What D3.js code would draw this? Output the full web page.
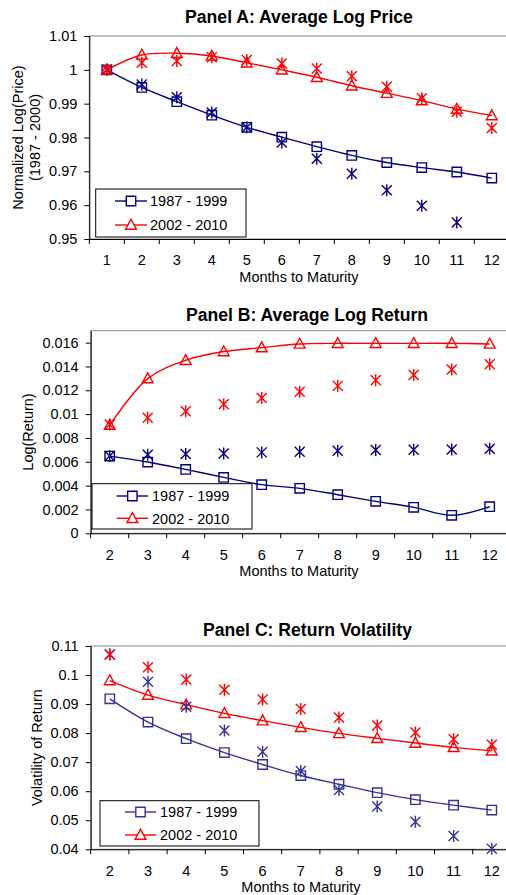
<!DOCTYPE html>
<html>
<head>
<meta charset="utf-8">
<script src="https://cdn.jsdelivr.net/npm/d3@7"></script>
<style>
  body { margin: 0; background: #fff; }
  svg { font-family: Arial, "Liberation Sans", sans-serif; }
</style>
</head>
<body>
<svg id="chart" width="506" height="895"></svg>
<script>
const seriesNames = ["1987 - 1999", "2002 - 2010"];

// Panel A: average log price
const monthsA = [1, 2, 3, 4, 5, 6, 7, 8, 9, 10, 11, 12];
const priceOld = [1.0000, 0.9948, 0.9906, 0.9866, 0.9830, 0.9801, 0.9773, 0.9747, 0.9726, 0.9711, 0.9698, 0.9680];
const priceNew = [1.0000, 1.0044, 1.0049, 1.0041, 1.0021, 1.0000, 0.9978, 0.9953, 0.9931, 0.9909, 0.9884, 0.9865];
const priceOldX = [1.0000, 0.9957, 0.9919, 0.9874, 0.9830, 0.9785, 0.9737, 0.9693, 0.9644, 0.9598, 0.9549, 0.9495];
const priceNewX = [1.0000, 1.0021, 1.0026, 1.0037, 1.0029, 1.0019, 1.0004, 0.9981, 0.9950, 0.9916, 0.9876, 0.9828];
const yTicksA = [0.95, 0.96, 0.97, 0.98, 0.99, 1, 1.01];

// Panel B: average log return
const monthsB = [2, 3, 4, 5, 6, 7, 8, 9, 10, 11, 12];
const returnOld = [0.00648, 0.00598, 0.00536, 0.00469, 0.00408, 0.00377, 0.00324, 0.00268, 0.00218, 0.00151, 0.00223];
const returnNew = [0.00908, 0.01298, 0.01452, 0.01525, 0.01558, 0.01589, 0.01594, 0.01594, 0.01594, 0.01594, 0.01589];
const returnOldX = [0.00648, 0.00659, 0.00665, 0.00670, 0.00679, 0.00684, 0.00693, 0.00698, 0.00701, 0.00704, 0.00709];
const returnNewX = [0.00913, 0.00969, 0.01025, 0.01083, 0.01136, 0.01187, 0.01237, 0.01284, 0.01329, 0.01374, 0.01419];
const yTicksB = [0, 0.002, 0.004, 0.006, 0.008, 0.01, 0.012, 0.014, 0.016];

// Panel C: return volatility
const monthsC = [2, 3, 4, 5, 6, 7, 8, 9, 10, 11, 12];
const volOld = [0.0918, 0.0838, 0.0781, 0.0733, 0.0692, 0.0654, 0.0624, 0.0595, 0.0571, 0.0552, 0.0535];
const volNew = [0.0981, 0.0931, 0.0898, 0.0868, 0.0843, 0.0820, 0.0799, 0.0782, 0.0766, 0.0751, 0.0739];
const volOldX = [0.1071, 0.0977, 0.0891, 0.0809, 0.0736, 0.0670, 0.0604, 0.0547, 0.0495, 0.0446, 0.0402];
const volNewX = [0.1071, 0.1027, 0.0985, 0.0949, 0.0916, 0.0883, 0.0854, 0.0826, 0.0802, 0.0779, 0.0760];
const yTicksC = [0.04, 0.05, 0.06, 0.07, 0.08, 0.09, 0.1, 0.11];

const navy = "#000080";
const red = "#ff0000";
const svg = d3.select("#chart");

const markerPath = {
  square: "M-4.7,-4.7h9.4v9.4h-9.4z",
  triangle: "M0,-5.7L5.4,4.2H-5.4Z",
  star: "M-5,-5L5,5M-5,5L5,-5M0,-6V6"
};

function fmt(d) { return String(+d.toFixed(4)); }

function drawPanel(p) {
  const g = svg.append("g");
  const width = p.step * p.months.length;
  const x = d3.scaleBand().domain(p.months).range([p.left, p.left + width]);
  const y = d3.scaleLinear().domain(p.yDomain).range([p.bottom, p.top]);
  const cx = d => x(d) + x.bandwidth() / 2;

  g.append("rect")
      .attr("x", p.left).attr("y", p.top)
      .attr("width", width).attr("height", p.bottom - p.top)
      .attr("fill", "none").attr("stroke", "#8a8a8a");

  g.append("text")
      .attr("x", p.titleX).attr("y", p.titleY)
      .attr("text-anchor", "middle")
      .style("font-weight", "bold").style("font-size", "17.6px")
      .text(p.title);

  const ya = g.append("g")
      .attr("transform", "translate(" + p.left + ",0)")
      .call(d3.axisLeft(y).tickValues(p.yTicks).tickFormat(fmt).tickSize(5).tickPadding(7).tickSizeOuter(0));
  const xa = g.append("g")
      .attr("transform", "translate(0," + p.bottom + ")")
      .call(d3.axisBottom(x).tickSize(0).tickPadding(16));
  // category boundary ticks, Excel style
  xa.selectAll(".bound")
      .data(p.months.concat(["end"]))
      .enter().append("line")
      .attr("x1", (d, i) => i < p.months.length ? x(d) : p.left + width)
      .attr("x2", (d, i) => i < p.months.length ? x(d) : p.left + width)
      .attr("y1", 0).attr("y2", 5)
      .attr("stroke", "#000");
  [ya, xa].forEach(a => {
    a.select(".domain").attr("stroke", "#000");
    a.selectAll(".tick line").attr("stroke", "#000");
    a.selectAll("text").attr("fill", "#000").style("font-size", "14.5px").style("font-family", "Arial, 'Liberation Sans', sans-serif");
  });

  g.append("text")
      .attr("x", p.xTitleX).attr("y", p.bottom + 42.5)
      .attr("text-anchor", "middle").style("font-size", "14.5px")
      .text("Months to Maturity");

  p.yTitle.forEach((t, i) => {
    g.append("text")
        .attr("transform", "translate(" + p.yTitleX[i] + "," + (p.top + p.bottom) / 2 + ") rotate(-90)")
        .attr("text-anchor", "middle").attr("dy", "0.35em")
        .style("font-size", "14.5px")
        .text(t);
  });

  const line = d3.line()
      .x(d => cx(d.m)).y(d => y(d.v))
      .curve(d3.curveCatmullRom);
  const inRange = d => d.v >= p.yDomain[0] && d.v <= p.yDomain[1];

  p.series.forEach(s => {
    const pts = p.months.map((m, i) => ({m: m, v: s.values[i]})).filter(inRange);
    if (s.line) {
      g.append("path").datum(pts)
          .attr("d", line)
          .attr("fill", "none").attr("stroke", s.color).attr("stroke-width", 1.4);
    }
    g.selectAll(null).data(pts).enter().append("path")
        .attr("transform", d => "translate(" + cx(d.m) + "," + y(d.v) + ")")
        .attr("d", markerPath[s.marker])
        .attr("fill", "none")
        .attr("stroke", s.color).attr("stroke-width", 1.4);
  });

  // legend
  const lg = p.legend;
  g.append("rect")
      .attr("x", lg.x).attr("y", lg.y).attr("width", lg.w).attr("height", lg.h)
      .attr("fill", "#fff").attr("stroke", "#000");
  p.series.filter(s => s.line).forEach((s, i) => {
    const ry = lg.rows[i];
    g.append("line")
        .attr("x1", lg.lineX[0]).attr("x2", lg.lineX[1])
        .attr("y1", ry).attr("y2", ry)
        .attr("stroke", s.color).attr("stroke-width", 1.4);
    g.append("path")
        .attr("transform", "translate(" + (lg.lineX[0] + lg.lineX[1]) / 2 + "," + ry + ")")
        .attr("d", markerPath[s.marker])
        .attr("fill", "#fff").attr("stroke", s.color).attr("stroke-width", 1.4);
    g.append("text")
        .attr("x", lg.textX).attr("y", ry).attr("dy", "0.36em")
        .style("font-size", "14.5px")
        .text(s.name);
  });
}

drawPanel({
  title: "Panel A: Average Log Price", titleX: 299, titleY: 23,
  months: monthsA, left: 89.3, step: 35, top: 36, bottom: 239,
  yDomain: [0.95, 1.01], yTicks: yTicksA, xTitleX: 299,
  yTitle: ["Normalized Log(Price)", "(1987 - 2000)"], yTitleX: [18, 35],
  legend: {x: 95.7, y: 189, w: 150.3, h: 48, rows: [201, 225], lineX: [115, 147], textX: 150},
  series: [
    {name: seriesNames[0], values: priceOld, color: navy, marker: "square", line: true},
    {name: seriesNames[1], values: priceNew, color: red, marker: "triangle", line: true},
    {values: priceOldX, color: navy, marker: "star"},
    {values: priceNewX, color: red, marker: "star"}
  ]
});

drawPanel({
  title: "Panel B: Average Log Return", titleX: 307, titleY: 321,
  months: monthsB, left: 90.7, step: 38, top: 330.7, bottom: 533.3,
  yDomain: [0, 0.017], yTicks: yTicksB, xTitleX: 299,
  yTitle: ["Log(Return)"], yTitleX: [28],
  legend: {x: 92, y: 483.7, w: 160, h: 45.3, rows: [496, 518.3], lineX: [116.7, 148], textX: 152},
  series: [
    {name: seriesNames[0], values: returnOld, color: navy, marker: "square", line: true},
    {name: seriesNames[1], values: returnNew, color: red, marker: "triangle", line: true},
    {values: returnOldX, color: navy, marker: "star"},
    {values: returnNewX, color: red, marker: "star"}
  ]
});

drawPanel({
  title: "Panel C: Return Volatility", titleX: 307.5, titleY: 636,
  months: monthsC, left: 90.7, step: 38.2, top: 646, bottom: 849.3,
  yDomain: [0.04, 0.11], yTicks: yTicksC, xTitleX: 301,
  yTitle: ["Volatility of Return"], yTitleX: [37],
  legend: {x: 100, y: 800.7, w: 159, h: 45.3, rows: [812, 835], lineX: [125, 156], textX: 160},
  series: [
    {name: seriesNames[0], values: volOld, color: "#333399", marker: "square", line: true},
    {name: seriesNames[1], values: volNew, color: red, marker: "triangle", line: true},
    {values: volOldX, color: "#333399", marker: "star"},
    {values: volNewX, color: red, marker: "star"}
  ]
});
</script>
</body>
</html>
